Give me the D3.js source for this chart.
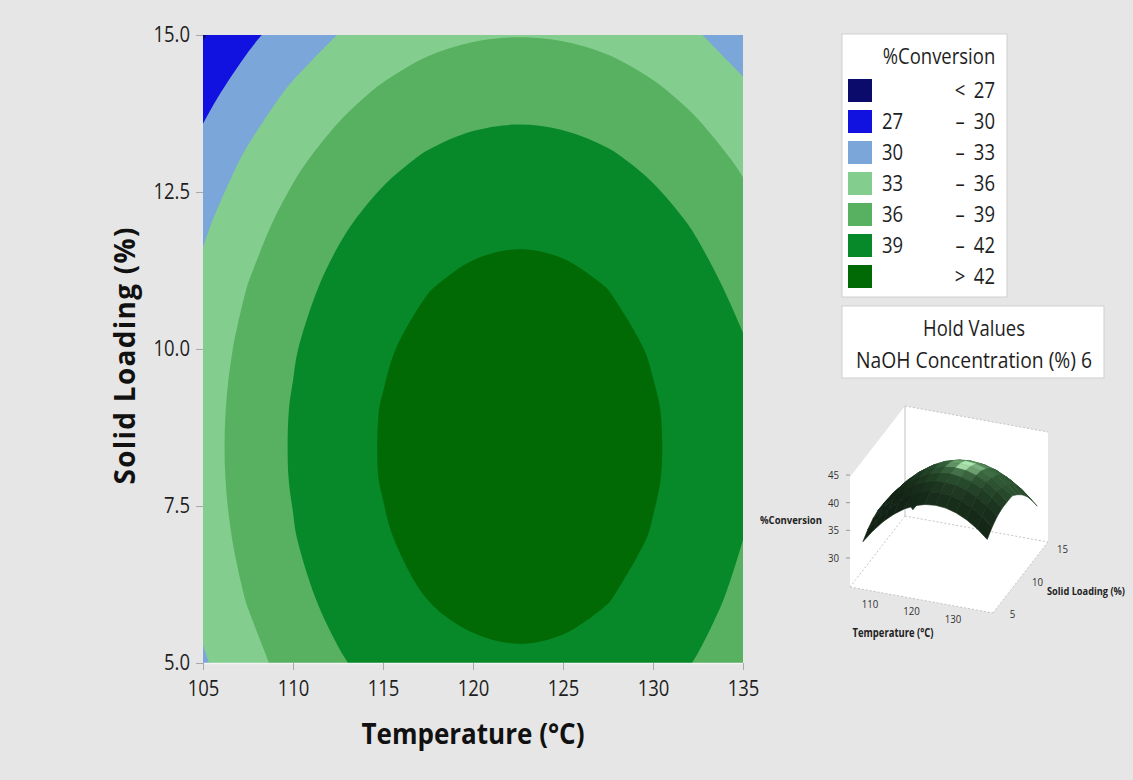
<!DOCTYPE html>
<html>
<head>
<meta charset="utf-8">
<script src="https://cdn.jsdelivr.net/npm/d3@7"></script>
<style>
  body { margin: 0; background: #e6e6e6; }
  svg { display: block; font-family: "Open Sans", "Noto Sans", sans-serif; }
  .axis line { stroke: #a8a8a8; }
</style>
</head>
<body>
<svg id="chart" width="1133" height="780"></svg>
<script>
// grid the contour bands were read on
const temperatures = [105, 107.5, 110, 112.5, 115, 117.5, 120, 122.5, 125, 127.5, 130, 132.5, 135];
const loadings = [5, 6, 7, 8, 9, 10, 11, 12, 13, 14, 15];

// %Conversion, one row per solid loading (5 at the top of the list -> 15)
const conversion = [
  [32.69, 35.06, 37.07, 38.71, 40.00, 40.92, 41.48, 41.67, 41.51, 40.98, 40.08, 38.83, 37.21],
  [33.77, 36.14, 38.15, 39.79, 41.08, 42.00, 42.56, 42.75, 42.59, 42.06, 41.16, 39.91, 38.29],
  [34.48, 36.85, 38.86, 40.51, 41.79, 42.71, 43.27, 43.46, 43.30, 42.77, 41.88, 40.62, 39.03],
  [34.83, 37.20, 39.21, 40.86, 42.14, 43.06, 43.62, 43.81, 43.65, 43.12, 42.23, 40.97, 39.35],
  [34.81, 37.18, 39.19, 40.84, 42.12, 43.04, 43.60, 43.79, 43.63, 43.10, 42.21, 40.95, 39.34],
  [34.43, 36.80, 38.81, 40.45, 41.74, 42.66, 43.21, 43.41, 43.24, 42.71, 41.82, 40.57, 39.25],
  [33.68, 36.05, 38.06, 39.70, 40.99, 41.91, 42.46, 42.66, 42.49, 41.96, 41.07, 39.82, 38.30],
  [32.56, 34.93, 36.94, 38.59, 39.87, 40.79, 41.35, 41.54, 41.38, 40.85, 39.96, 38.70, 37.09],
  [31.08, 33.45, 35.46, 37.10, 38.39, 39.31, 39.87, 40.06, 39.89, 39.37, 38.47, 37.22, 35.60],
  [29.23, 31.60, 33.61, 35.26, 36.54, 37.46, 38.02, 38.21, 38.05, 37.52, 36.63, 35.37, 33.75],
  [26.80, 29.39, 31.40, 33.04, 34.32, 35.25, 35.75, 35.92, 35.77, 35.30, 34.41, 33.16, 31.54]
];

const thresholds = [27, 30, 33, 36, 39, 42];
const bandColors = ["#0b0b6c", "#1212e0", "#7ba6da", "#83cd8f", "#58b160", "#07892a", "#026a05"];
const legendLow = ["", "27", "30", "33", "36", "39", ""];
const legendSign = ["<", "–", "–", "–", "–", "–", ">"];
const legendHigh = ["27", "30", "33", "36", "39", "42", "42"];

const xTicks = [105, 110, 115, 120, 125, 130, 135];
const yTicks = [5, 7.5, 10, 12.5, 15];

const holdLabel = "NaOH Concentration (%)";
const holdValue = 6;

const insetTTicks = [110, 120, 130];
const insetSTicks = [5, 10, 15];
const insetZTicks = [30, 35, 40, 45];

const FONT = '"Open Sans", "Noto Sans", sans-serif';
const svg = d3.select("#chart");
svg.append("rect").attr("width", 1133).attr("height", 780).attr("fill", "#e6e6e6");

// ---------- main contour plot ----------
const x = d3.scaleLinear().domain([105, 135]).range([203, 743]);
const y = d3.scaleLinear().domain([5, 15]).range([663, 35]);

svg.append("clipPath").attr("id", "plotClip")
  .append("rect").attr("x", 203).attr("y", 35).attr("width", 540).attr("height", 628);

const nx = temperatures.length, ny = loadings.length;
const dT = temperatures[1] - temperatures[0];
const dS = loadings[1] - loadings[0];
// d3.contours puts grid value i at i + 0.5; pin the outer frame onto the first/last samples
const gridT = c => temperatures[0] + (Math.min(Math.max(c, 0.5), nx - 0.5) - 0.5) * dT;
const gridS = c => loadings[0] + (Math.min(Math.max(c, 0.5), ny - 0.5) - 0.5) * dS;

const bands = d3.contours().size([nx, ny]).thresholds(thresholds)(conversion.flat());

const openLine = d3.line().curve(d3.curveCatmullRom.alpha(0.5));
const closedLine = d3.line().curve(d3.curveCatmullRomClosed.alpha(0.5));
const samePt = (a, b) => a[0] === b[0] && a[1] === b[1];

// straight along the plot border, smooth curves in between
function ringPath(ring) {
  let pts = [];
  ring.slice(0, -1).forEach(p => {
    const frame = p[0] === 0 || p[0] === nx || p[1] === 0 || p[1] === ny;
    const px = [x(gridT(p[0])), y(gridS(p[1]))];
    const last = pts[pts.length - 1];
    if (last && samePt(last.p, px)) { last.frame = last.frame || frame; return; }
    pts.push({ p: px, frame });
  });
  if (pts.length > 1 && samePt(pts[0].p, pts[pts.length - 1].p)) {
    pts[0].frame = pts[0].frame || pts[pts.length - 1].frame;
    pts.pop();
  }
  const k = pts.findIndex(d => d.frame);
  if (k < 0) return closedLine(pts.map(d => d.p));
  pts = pts.slice(k).concat(pts.slice(0, k));
  let path = "M" + pts[0].p;
  let run = [];
  for (let i = 1; i <= pts.length; i++) {
    const d = pts[i % pts.length];
    if (d.frame) {
      if (run.length > 1) path += openLine(run.map(r => r.p)).replace(/^M/, "L");
      else if (run.length === 1) path += "L" + run[0].p;
      run = [];
      path += "L" + d.p;
    } else {
      run.push(d);
    }
  }
  return path + "Z";
}

function bandPath(geom) {
  return geom.coordinates.map(poly => poly.map(ringPath).join("")).join("");
}

const plot = svg.append("g").attr("clip-path", "url(#plotClip)");
plot.append("rect").attr("x", 203).attr("y", 35).attr("width", 540).attr("height", 628)
  .attr("fill", bandColors[0]);
plot.selectAll("path.band")
  .data(bands)
  .enter().append("path")
  .attr("class", "band")
  .attr("d", bandPath)
  .attr("fill", (d, i) => bandColors[i + 1])
  .attr("fill-rule", "evenodd");

const xAxis = svg.append("g").attr("class", "axis")
  .attr("transform", "translate(0,663)")
  .call(d3.axisBottom(x).tickValues(xTicks).tickSize(7).tickSizeOuter(0).tickPadding(11)
    .tickFormat(d3.format("d")))
  .attr("font-family", FONT).attr("font-size", 21);
xAxis.select(".domain").attr("stroke", "#f4f4f4").attr("stroke-width", 1.5);
xAxis.selectAll("text").attr("fill", "#1e1e1e");

const yAxis = svg.append("g").attr("class", "axis")
  .attr("transform", "translate(203,0)")
  .call(d3.axisLeft(y).tickValues(yTicks).tickSize(7).tickSizeOuter(0).tickPadding(6)
    .tickFormat(d3.format(".1f")))
  .attr("font-family", FONT).attr("font-size", 21);
yAxis.select(".domain").remove();
yAxis.selectAll("text").attr("fill", "#1e1e1e");

svg.append("text")
  .attr("x", 473).attr("y", 744)
  .attr("text-anchor", "middle")
  .attr("font-size", 28).attr("font-weight", "bold").attr("fill", "#111")
  .attr("textLength", 223).attr("lengthAdjust", "spacingAndGlyphs")
  .text("Temperature (°C)");

svg.append("text")
  .attr("transform", "translate(135,356) rotate(-90)")
  .attr("text-anchor", "middle")
  .attr("font-size", 28).attr("font-weight", "bold").attr("fill", "#111")
  .attr("textLength", 257).attr("lengthAdjust", "spacing")
  .text("Solid Loading (%)");

// ---------- legend ----------
const legend = svg.append("g");
legend.append("rect").attr("x", 842).attr("y", 34).attr("width", 165).attr("height", 263)
  .attr("fill", "#fff").attr("stroke", "#cfcfcf");
legend.append("text").attr("x", 939).attr("y", 64).attr("text-anchor", "middle")
  .attr("font-size", 21).attr("fill", "#1e1e1e").text("%Conversion");

const rows = legend.selectAll("g.row")
  .data(bandColors)
  .enter().append("g")
  .attr("class", "row")
  .attr("transform", (d, i) => `translate(0,${79 + i * 31})`);
rows.append("rect").attr("x", 848).attr("width", 24).attr("height", 23).attr("fill", d => d);
rows.append("text").attr("x", 882).attr("y", 19).attr("font-size", 21).attr("fill", "#1e1e1e")
  .text((d, i) => legendLow[i]);
rows.append("text").attr("x", 960).attr("y", 19).attr("text-anchor", "middle")
  .attr("font-size", 21).attr("fill", "#1e1e1e").text((d, i) => legendSign[i]);
rows.append("text").attr("x", 995).attr("y", 19).attr("text-anchor", "end")
  .attr("font-size", 21).attr("fill", "#1e1e1e").text((d, i) => legendHigh[i]);

// ---------- hold values ----------
const hold = svg.append("g");
hold.append("rect").attr("x", 842).attr("y", 306).attr("width", 262).attr("height", 72)
  .attr("fill", "#fff").attr("stroke", "#cfcfcf");
hold.append("text").attr("x", 974).attr("y", 336).attr("text-anchor", "middle")
  .attr("font-size", 21).attr("fill", "#1e1e1e").text("Hold Values");
hold.append("text").attr("x", 974).attr("y", 368).attr("text-anchor", "middle")
  .attr("font-size", 21).attr("fill", "#1e1e1e")
  .attr("textLength", 236).attr("lengthAdjust", "spacingAndGlyphs")
  .text(`${holdLabel}  ${holdValue}`);

// ---------- 3D surface inset ----------
const T0 = 102.5, T1 = 137, S0 = 4.5, S1 = 15.5, Z0 = 24.75, Z1 = 44.65;
const insetT = d3.scaleLinear().domain([T0, T1]).range([0, 1]);
const insetS = d3.scaleLinear().domain([S0, S1]).range([0, 1]);
const insetZ = d3.scaleLinear().domain([Z0, Z1]).range([0, 110]);
const origin = [850, 587], alongT = [143, 26], alongS = [55, -71];

function proj(t, s, z) {
  const a = insetT(t), b = insetS(s);
  return [origin[0] + a * alongT[0] + b * alongS[0],
          origin[1] + a * alongT[1] + b * alongS[1] - insetZ(z)];
}

const inset = svg.append("g");
const boxOutline = [proj(T0, S0, Z1), proj(T0, S1, Z1), proj(T1, S1, Z1),
                    proj(T1, S1, Z0), proj(T1, S0, Z0), proj(T0, S0, Z0)];
inset.append("path").attr("d", "M" + boxOutline.join("L") + "Z").attr("fill", "#fff");

const seg = (p, q) => "M" + p + "L" + q;
inset.append("path")
  .attr("d", [seg(proj(T0, S1, Z0), proj(T1, S1, Z0)), seg(proj(T0, S1, Z0), proj(T0, S0, Z0)),
              seg(proj(T0, S0, Z0), proj(T1, S0, Z0)), seg(proj(T1, S0, Z0), proj(T1, S1, Z0)),
              seg(proj(T0, S1, Z1), proj(T1, S1, Z1))].join(""))
  .attr("fill", "none").attr("stroke", "#c4c4c4").attr("stroke-dasharray", "2,2");
inset.append("path")
  .attr("d", seg(proj(T0, S1, Z0), proj(T0, S1, Z1)))
  .attr("stroke", "#b0b0b0").attr("stroke-width", 0.8);

// vertex normals in a box of 1 x 0.8 x 0.75
const wz = (z) => insetZ(z) / 110 * 0.75;
function normalAt(i, j) {
  const i0 = Math.max(i - 1, 0), i1 = Math.min(i + 1, nx - 1);
  const j0 = Math.max(j - 1, 0), j1 = Math.min(j + 1, ny - 1);
  const dzdx = (wz(conversion[j][i1]) - wz(conversion[j][i0])) /
               (insetT(temperatures[i1]) - insetT(temperatures[i0]));
  const dzdy = (wz(conversion[j1][i]) - wz(conversion[j0][i])) /
               ((insetS(loadings[j1]) - insetS(loadings[j0])) * 0.8);
  const n = [-dzdx, -dzdy, 1];
  const len = Math.hypot(...n);
  return n.map(v => v / len);
}
const norm = v => { const l = Math.hypot(...v); return v.map(c => c / l); };
const light = norm([0.1, 0.4, 1]);
const half = norm([0.1, 0.3, 1]);

function shade(n) {
  const diff = Math.max(0, n[0] * light[0] + n[1] * light[1] + n[2] * light[2]);
  const spec = Math.pow(Math.max(0, n[0] * half[0] + n[1] * half[1] + n[2] * half[2]), 50);
  const d2 = Math.pow(diff, 4);
  const r = 16 + d2 * 45 + spec * 130;
  const g = 30 + d2 * 85 + spec * 135;
  const b = 18 + d2 * 50 + spec * 125;
  return d3.rgb(Math.min(255, r), Math.min(255, g), Math.min(255, b)).formatHex();
}

const quads = [];
for (let j = 0; j < ny - 1; j++) {
  for (let i = 0; i < nx - 1; i++) {
    const corners = [[i, j], [i + 1, j], [i + 1, j + 1], [i, j + 1]];
    const pts = corners.map(([a, b]) => proj(temperatures[a], loadings[b], conversion[b][a]));
    const ns = corners.map(([a, b]) => normalAt(a, b));
    const n = norm([0, 1, 2].map(k => d3.sum(ns, v => v[k])));
    const depth = d3.mean(corners, ([a, b]) =>
      insetT(temperatures[a]) * alongT[1] + insetS(loadings[b]) * alongS[1]);
    quads.push({ pts, color: shade(n), depth });
  }
}
quads.sort((p, q) => p.depth - q.depth);

inset.selectAll("path.quad")
  .data(quads)
  .enter().append("path")
  .attr("class", "quad")
  .attr("d", d => "M" + d.pts.join("L") + "Z")
  .attr("fill", d => d.color)
  .attr("stroke", d => d.color)
  .attr("stroke-width", 0.6)
  .attr("stroke-linejoin", "round");

// inset axes
const zTick = inset.selectAll("g.ztick").data(insetZTicks).enter().append("g").attr("class", "ztick");
zTick.append("line")
  .attr("x1", d => proj(T0, S0, d)[0] - 4).attr("x2", d => proj(T0, S0, d)[0])
  .attr("y1", d => proj(T0, S0, d)[1]).attr("y2", d => proj(T0, S0, d)[1])
  .attr("stroke", "#999");
zTick.append("text")
  .attr("x", d => proj(T0, S0, d)[0] - 11).attr("y", d => proj(T0, S0, d)[1] + 4)
  .attr("text-anchor", "end").attr("font-size", 11).attr("fill", "#333")
  .text(d => d);

inset.selectAll("text.ttick").data(insetTTicks).enter().append("text")
  .attr("class", "ttick")
  .attr("x", d => proj(d, S0, Z0)[0] - 11).attr("y", d => proj(d, S0, Z0)[1] + 15)
  .attr("text-anchor", "middle").attr("font-size", 11).attr("fill", "#333")
  .text(d => d);

inset.selectAll("text.stick").data(insetSTicks).enter().append("text")
  .attr("class", "stick")
  .attr("x", d => proj(T1, d, Z0)[0] + 17).attr("y", d => proj(T1, d, Z0)[1] + 8)
  .attr("text-anchor", "middle").attr("font-size", 11).attr("fill", "#333")
  .text(d => d);

inset.append("text").attr("x", 822).attr("y", 524).attr("text-anchor", "end")
  .attr("font-size", 11).attr("font-weight", "bold").attr("fill", "#222")
  .attr("textLength", 62).attr("lengthAdjust", "spacingAndGlyphs").text("%Conversion");
inset.append("text").attr("x", 893).attr("y", 637).attr("text-anchor", "middle")
  .attr("font-size", 12).attr("font-weight", "bold").attr("fill", "#222")
  .attr("textLength", 81).attr("lengthAdjust", "spacingAndGlyphs").text("Temperature (°C)");
inset.append("text").attr("x", 1047).attr("y", 595)
  .attr("font-size", 11).attr("font-weight", "bold").attr("fill", "#222")
  .attr("textLength", 78).attr("lengthAdjust", "spacingAndGlyphs").text("Solid Loading (%)");

// Minitab's font runs narrower than the fallback, squeeze the rest of the labels
svg.selectAll("text").each(function() {
  if (this.hasAttribute("textLength")) return;
  const w = this.getComputedTextLength();
  if (w > 0) {
    this.setAttribute("textLength", w * 0.88);
    this.setAttribute("lengthAdjust", "spacingAndGlyphs");
  }
});
</script>
</body>
</html>
